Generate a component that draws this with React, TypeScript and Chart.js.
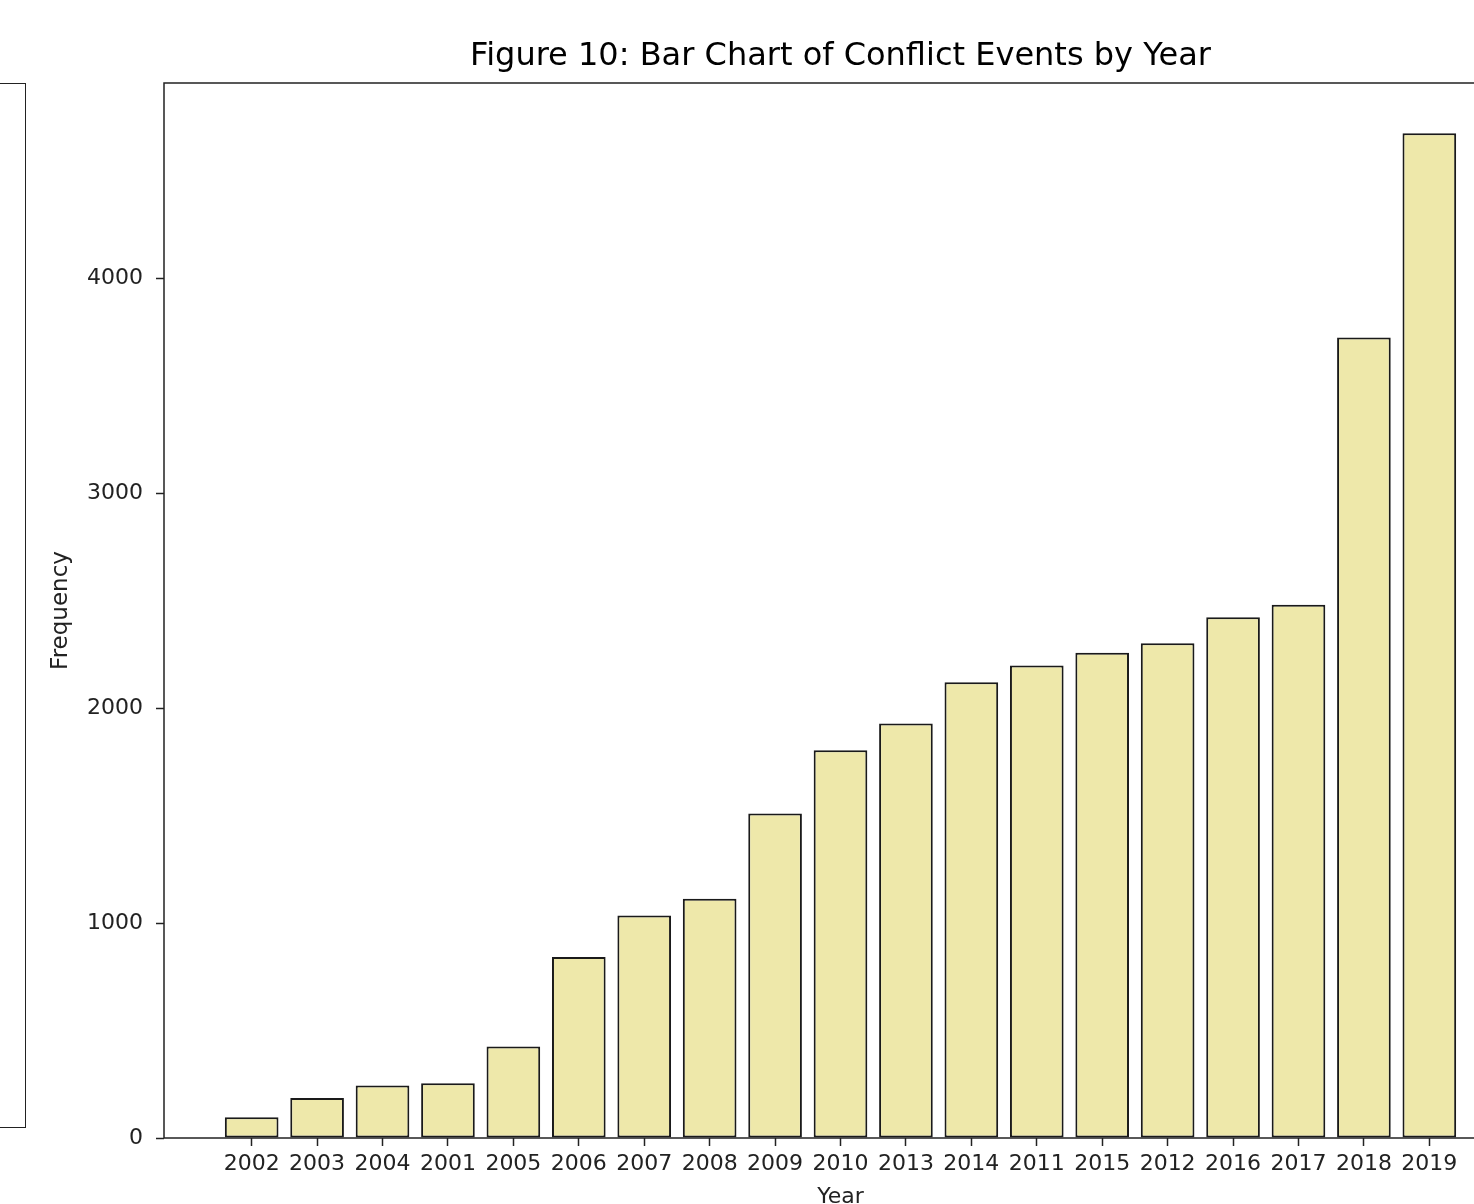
import React, { useEffect, useRef } from 'react';
import { Chart, registerables } from 'chart.js';

Chart.register(...registerables);

// ---- data ----
const years = ['2002', '2003', '2004', '2001', '2005', '2006', '2007', '2008', '2009', '2010', '2013', '2014', '2011', '2015', '2012', '2016', '2017', '2018', '2019'];
const frequencies = [97, 186, 244, 255, 426, 842, 1036, 1114, 1510, 1804, 1929, 2121, 2199, 2258, 2303, 2424, 2482, 3725, 4676];
const yTickValues = [0, 1000, 2000, 3000, 4000];
const chartTitle = 'Figure 10: Bar Chart of Conflict Events by Year';
const xAxisTitle = 'Year';
const yAxisTitle = 'Frequency';

// ---- layout ----
const CANVAS_W = 1540;
const CANVAS_H = 1240;
const PLOT_LEFT = 164;
const PLOT_TOP = 83;
const PLOT_BOTTOM = 1138;
const PLOT_RIGHT = 1517;
const TITLE_Y = 57;
const FONT = "'DejaVu Sans', sans-serif";
const INK = '#222';

// matplotlib-like margins (bar width 0.8, 5% margins)
const BAR_W = 0.8;
const xSpan = years.length - 1 + BAR_W;
const X_MIN = -BAR_W / 2 - 0.05 * xSpan;
const X_MAX = years.length - 1 + BAR_W / 2 + 0.05 * xSpan;
const Y_MAX = Math.max(...frequencies) * 1.05;

const spinesPlugin = {
  id: 'spines',
  afterDraw(chart: any) {
    const { ctx, chartArea: a } = chart;
    ctx.save();
    ctx.strokeStyle = INK;
    ctx.lineWidth = 1.5;
    ctx.strokeRect(a.left, a.top, a.right - a.left, a.bottom - a.top);
    // axes title, centred over the plot area like matplotlib
    ctx.fillStyle = '#000';
    ctx.font = `normal 32px ${FONT}`;
    ctx.textAlign = 'center';
    ctx.textBaseline = 'middle';
    ctx.fillText(chartTitle, (a.left + a.right) / 2, TITLE_Y);
    ctx.restore();
  },
};

export default function App() {
  const ref = useRef<HTMLCanvasElement | null>(null);

  useEffect(() => {
    if (!ref.current) return;
    const chart = new Chart(ref.current, {
      type: 'bar',
      data: {
        datasets: [
          {
            data: frequencies.map((v, i) => ({ x: i, y: v })),
            backgroundColor: '#EEE8AA',
            borderColor: '#1a1a1a',
            borderWidth: 2,
            borderSkipped: false,
            barPercentage: 0.82,
            categoryPercentage: 1,
          },
        ],
      },
      options: {
        animation: false,
        responsive: false,
        devicePixelRatio: 1,
        layout: { padding: { left: 0, right: CANVAS_W - PLOT_RIGHT, top: PLOT_TOP, bottom: 0 } },
        plugins: {
          legend: { display: false },
          tooltip: { enabled: false },
          title: { display: false },
        },
        scales: {
          x: {
            type: 'linear',
            min: X_MIN,
            max: X_MAX,
            offset: false,
            afterFit: (s: any) => {
              s.height = CANVAS_H - PLOT_BOTTOM;
            },
            afterBuildTicks: (s: any) => {
              s.ticks = years.map((_, i) => ({ value: i }));
            },
            ticks: {
              autoSkip: false,
              maxRotation: 0,
              minRotation: 0,
              padding: 5,
              color: INK,
              font: { family: FONT, size: 22 },
              callback: (v: any) => years[v] ?? '',
            },
            grid: {
              display: true,
              offset: false,
              drawOnChartArea: false,
              drawTicks: true,
              tickLength: 8,
              tickColor: INK,
              tickWidth: 1.5,
            },
            border: { display: false },
            title: {
              display: true,
              text: xAxisTitle,
              color: INK,
              font: { family: FONT, size: 22, lineHeight: 1.2 },
              padding: { top: 0, bottom: 30 },
            },
          },
          y: {
            type: 'linear',
            min: 0,
            max: Y_MAX,
            afterFit: (s: any) => {
              s.width = PLOT_LEFT;
            },
            afterBuildTicks: (s: any) => {
              s.ticks = yTickValues.map((v) => ({ value: v }));
            },
            ticks: {
              padding: 13,
              color: INK,
              font: { family: FONT, size: 22 },
              callback: (v: any) => String(v),
            },
            grid: {
              display: true,
              drawOnChartArea: false,
              drawTicks: true,
              tickLength: 8,
              tickColor: INK,
              tickWidth: 1.5,
            },
            border: { display: false },
            title: {
              display: true,
              text: yAxisTitle,
              color: INK,
              font: { family: FONT, size: 23, lineHeight: 1.2 },
              padding: { top: 47, bottom: 0 },
            },
          },
        },
      },
      plugins: [spinesPlugin],
    } as any);
    return () => chart.destroy();
  }, []);

  return (
    <div
      style={{
        position: 'fixed',
        left: 0,
        top: 0,
        width: 1474,
        height: 1204,
        overflow: 'hidden',
        background: '#fff',
      }}
    >
      <div
        style={{
          position: 'absolute',
          left: -20,
          top: 83,
          width: 46,
          height: 1045,
          boxSizing: 'border-box',
          border: `1.5px solid ${INK}`,
        }}
      />
      <canvas
        ref={ref}
        width={CANVAS_W}
        height={CANVAS_H}
        style={{ position: 'absolute', left: 0, top: 0, width: CANVAS_W, height: CANVAS_H }}
      />
    </div>
  );
}
